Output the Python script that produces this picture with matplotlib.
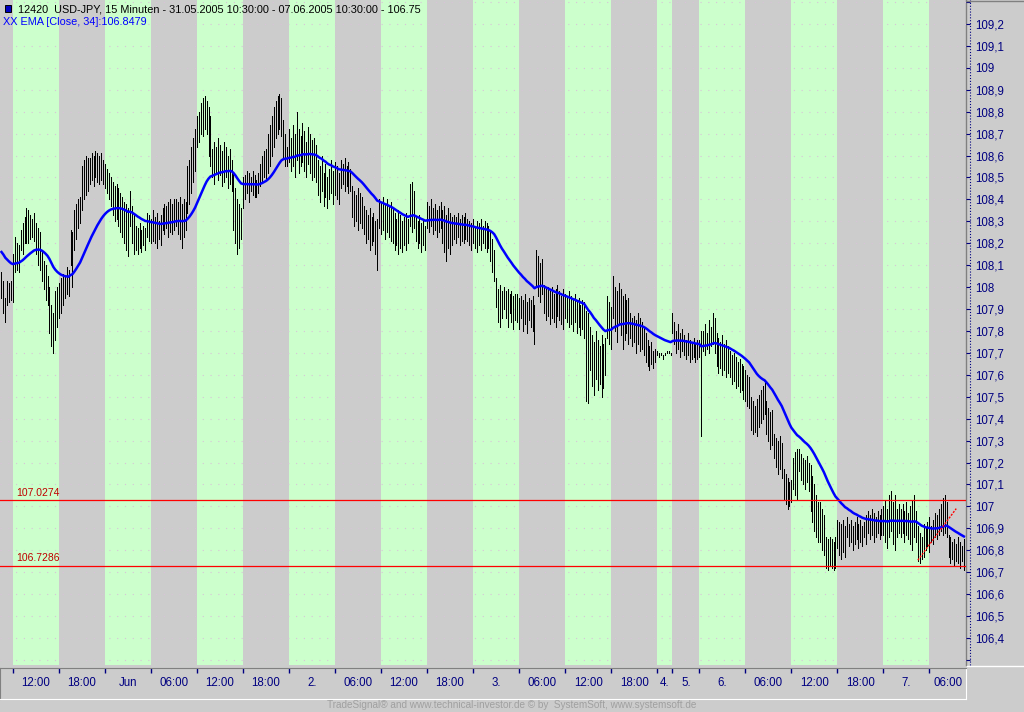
import matplotlib
matplotlib.use("Agg")
import matplotlib.pyplot as plt
from matplotlib.lines import Line2D
from matplotlib.patches import Rectangle
import numpy as np
import pandas as pd

# 15 minute bars, two sessions (gap over the weekend)
session_starts = ["2005-05-31 10:30", "2005-06-05 20:30"]
session_ends = ["2005-06-04 01:45", "2005-06-07 10:30"]

# high / low of every bar
highs = [
    108.07, 108.03, 107.95, 108.03, 108.02, 108.03, 108.15, 108.23, 108.20, 108.19,
    108.26, 108.29, 108.32, 108.36, 108.35, 108.33, 108.31, 108.34, 108.29, 108.27, 108.25,
    108.17, 108.12, 108.10, 108.05, 108.00, 107.92, 107.88, 107.98, 108.00, 108.02, 108.04,
    108.06, 108.05, 108.09, 108.08, 108.26, 108.25, 108.35, 108.38, 108.40, 108.41,
    108.55, 108.58, 108.60, 108.59, 108.59, 108.61, 108.60, 108.62, 108.61, 108.60, 108.61,
    108.58, 108.56, 108.54, 108.52, 108.50, 108.48, 108.46, 108.47, 108.45, 108.43,
    108.41, 108.39, 108.38, 108.36, 108.44, 108.37, 108.33,
    108.28, 108.27, 108.29, 108.26, 108.28, 108.27, 108.34, 108.33, 108.31,
    108.35, 108.32, 108.34, 108.30, 108.33, 108.36, 108.38, 108.37, 108.39, 108.40, 108.38, 108.40,
    108.40, 108.39, 108.41, 108.38, 108.40, 108.39, 108.55, 108.58, 108.64, 108.68, 108.72,
    108.78, 108.80, 108.84, 108.86, 108.87, 108.85, 108.82, 108.78,
    108.63, 108.66, 108.64, 108.68, 108.65, 108.62, 108.66, 108.64, 108.60, 108.63, 108.58,
    108.52, 108.45, 108.40, 108.38, 108.36, 108.50, 108.51, 108.53, 108.52, 108.50, 108.53, 108.51,
    108.49, 108.52, 108.56, 108.60, 108.62, 108.63, 108.70, 108.74, 108.78, 108.82, 108.85, 108.87, 108.88, 108.86,
    108.76, 108.70, 108.64,
    108.72, 108.68, 108.74, 108.70, 108.80, 108.72, 108.69, 108.75, 108.71, 108.66, 108.73,
    108.70, 108.67, 108.68, 108.65,
    108.58, 108.55, 108.60, 108.52, 108.56, 108.50, 108.54, 108.58, 108.53, 108.57, 108.55, 108.52,
    108.58, 108.56, 108.59, 108.55, 108.57, 108.54, 108.46, 108.44, 108.42, 108.45, 108.43, 108.41,
    108.37, 108.35, 108.33, 108.36, 108.32, 108.34, 108.30, 108.31,
    108.40, 108.39, 108.41, 108.38, 108.40, 108.37, 108.39,
    108.36, 108.34, 108.31, 108.35, 108.33, 108.30, 108.32, 108.34, 108.31, 108.47, 108.48, 108.44,
    108.32, 108.30, 108.33, 108.29, 108.31, 108.28, 108.39, 108.37, 108.40, 108.36, 108.38, 108.35, 108.37, 108.39,
    108.35, 108.37, 108.33, 108.36, 108.34, 108.32, 108.33, 108.32, 108.34, 108.31, 108.33, 108.32, 108.34, 108.31,
    108.30, 108.29, 108.31, 108.28, 108.30, 108.29, 108.31, 108.28, 108.30, 108.29, 108.28,
    108.25, 108.22, 108.17, 108.04, 107.99, 108.01, 107.98,
    108.00, 107.98, 107.99, 107.97, 107.98, 107.96, 107.97,
    107.97, 107.95, 107.96, 107.94, 107.97, 107.93, 107.95, 107.94, 107.96, 107.92,
    108.17, 108.14, 108.11, 108.13,
    108.01, 107.99, 108.00, 107.98, 108.00, 107.97, 107.99, 108.01, 107.98, 107.96, 107.99, 107.97, 107.95, 107.98,
    107.96, 107.94, 107.97, 107.93, 107.95, 107.92, 107.94, 107.93, 107.89, 107.88,
    107.82, 107.78, 107.75, 107.80, 107.76, 107.73, 107.78, 107.74, 107.77, 107.96, 107.93, 107.91,
    108.05, 108.00, 107.98, 108.02, 107.99, 107.96, 107.97, 107.94, 107.95,
    107.88, 107.86, 107.87, 107.85, 107.88, 107.86, 107.84,
    107.82, 107.79, 107.76, 107.73, 107.75, 107.71, 107.72,
    107.71, 107.70, 107.70, 107.69, 107.70, 107.71, 107.71, 107.70,
    107.88, 107.84, 107.80, 107.83, 107.79, 107.81, 107.78, 107.76, 107.79, 107.76, 107.75, 107.77, 107.74, 107.76,
    107.76, 107.80, 107.80, 107.83, 107.79, 107.85, 107.82, 107.88, 107.86,
    107.79, 107.77, 107.75, 107.78, 107.74, 107.76, 107.73,
    107.71, 107.69, 107.70, 107.68, 107.66, 107.67, 107.65, 107.64, 107.62, 107.60, 107.59,
    107.50, 107.48, 107.46, 107.49, 107.51, 107.53, 107.55, 107.57, 107.48, 107.45, 107.43, 107.44,
    107.33, 107.31, 107.30, 107.32, 107.29, 107.17, 107.15, 107.13, 107.11, 107.12,
    107.22, 107.25, 107.26, 107.26, 107.24, 107.22, 107.21, 107.23, 107.20,
    107.19, 107.14, 107.10, 107.05, 107.02, 107.02, 106.99, 106.96,
    106.86, 106.85, 106.86, 106.85, 106.84, 106.86, 106.94, 106.93, 106.92, 106.94, 106.91,
    106.95, 106.92, 106.94, 106.91, 106.93, 106.95, 106.92, 106.94, 106.91, 106.93, 106.96,
    106.98, 106.96, 106.99, 106.97, 106.95, 106.98, 106.96, 106.99,
    107.00, 107.03, 106.99, 107.05, 107.07, 107.02, 107.05, 106.99, 107.01,
    106.99, 107.01, 106.98, 107.02, 106.97, 107.00, 107.03, 107.05, 106.98,
    106.91, 106.88, 106.86,
    106.92, 106.90, 106.93, 106.95, 106.91, 106.94, 106.97, 106.96, 106.99,
    107.01, 107.04, 107.05, 107.02,
    106.87, 106.86, 106.84, 106.85, 106.83, 106.86, 106.84, 106.82, 106.85,
]
lows = [
    107.95, 107.88, 107.84, 107.92, 107.93, 107.94, 107.93, 108.07, 108.08, 108.07,
    108.17, 108.15, 108.20, 108.20, 108.20, 108.22, 108.23, 108.21, 108.15, 108.10, 108.08,
    108.03, 107.99, 107.94, 107.92, 107.79, 107.73, 107.70, 107.76, 107.82, 107.86, 107.88,
    107.92, 107.95, 107.97, 107.96, 108.10, 108.00, 108.17, 108.22, 108.27, 108.29,
    108.35, 108.40, 108.42, 108.44, 108.47, 108.49, 108.46, 108.50, 108.48, 108.47, 108.49,
    108.47, 108.45, 108.43, 108.40, 108.37, 108.33, 108.30, 108.31, 108.28, 108.25,
    108.23, 108.20, 108.17, 108.14, 108.28, 108.20, 108.15,
    108.17, 108.15, 108.18, 108.16, 108.19, 108.17, 108.23, 108.21, 108.20,
    108.21, 108.20, 108.18, 108.22, 108.19, 108.26, 108.24, 108.27, 108.23, 108.25, 108.24, 108.26,
    108.28, 108.24, 108.22, 108.18, 108.23, 108.26, 108.34, 108.38, 108.43, 108.48, 108.53,
    108.64, 108.66, 108.70, 108.69, 108.72, 108.70, 108.60, 108.55,
    108.50, 108.47, 108.52, 108.49, 108.51, 108.46, 108.48, 108.50, 108.45, 108.47, 108.44,
    108.26, 108.20, 108.15, 108.18, 108.22, 108.36, 108.40, 108.43, 108.39, 108.44, 108.42, 108.41,
    108.41, 108.43, 108.46, 108.48, 108.50, 108.49, 108.52, 108.55, 108.60, 108.64, 108.68, 108.70, 108.72, 108.69,
    108.59, 108.55, 108.55,
    108.57, 108.53, 108.55, 108.50, 108.58, 108.52, 108.55, 108.57, 108.53, 108.50, 108.56,
    108.52, 108.49, 108.50, 108.48,
    108.42, 108.39, 108.44, 108.37, 108.41, 108.36, 108.40, 108.43, 108.38, 108.42, 108.40, 108.38,
    108.45, 108.47, 108.44, 108.46, 108.43, 108.44, 108.32, 108.28, 108.30, 108.26, 108.29, 108.27,
    108.24, 108.20, 108.22, 108.17, 108.19, 108.21, 108.15, 108.08,
    108.27, 108.24, 108.26, 108.22, 108.25, 108.23, 108.21,
    108.20, 108.17, 108.19, 108.15, 108.18, 108.16, 108.19, 108.17, 108.20, 108.28, 108.25, 108.27,
    108.21, 108.18, 108.20, 108.16, 108.19, 108.17, 108.27, 108.25, 108.28, 108.24, 108.26, 108.23, 108.25, 108.27,
    108.20, 108.16, 108.12, 108.18, 108.15, 108.19, 108.22, 108.20, 108.23, 108.19, 108.21, 108.20, 108.22, 108.21,
    108.19, 108.17, 108.20, 108.18, 108.16, 108.19, 108.17, 108.20, 108.18, 108.16, 108.18,
    108.12, 108.07, 108.03, 107.91, 107.84, 107.82, 107.86,
    107.90, 107.86, 107.82, 107.88, 107.84, 107.81, 107.85,
    107.84, 107.81, 107.86, 107.80, 107.83, 107.79, 107.85, 107.82, 107.80, 107.74,
    108.00, 107.96, 107.93, 107.97,
    107.88, 107.85, 107.87, 107.83, 107.86, 107.84, 107.82, 107.87, 107.85, 107.83, 107.81, 107.86, 107.84, 107.82,
    107.83, 107.80, 107.84, 107.79, 107.82, 107.78, 107.81, 107.77, 107.48, 107.47,
    107.62, 107.55, 107.51, 107.58, 107.53, 107.56, 107.50, 107.54, 107.60, 107.77, 107.74, 107.72,
    107.86, 107.80, 107.75, 107.83, 107.78, 107.72, 107.76, 107.79, 107.74,
    107.77, 107.73, 107.75, 107.70, 107.74, 107.71, 107.72,
    107.69, 107.66, 107.64, 107.62, 107.65, 107.63, 107.66,
    107.69, 107.68, 107.69, 107.67, 107.69, 107.70, 107.70, 107.69,
    107.79, 107.74, 107.70, 107.72, 107.68, 107.71, 107.69, 107.67, 107.69, 107.66, 107.67, 107.68, 107.66, 107.67,
    107.68, 107.32, 107.71, 107.69, 107.72, 107.70, 107.73, 107.74, 107.70,
    107.64, 107.61, 107.63, 107.60, 107.62, 107.59, 107.61,
    107.59, 107.56, 107.57, 107.54, 107.55, 107.52, 107.53, 107.49, 107.48, 107.46, 107.45,
    107.35, 107.33, 107.34, 107.32, 107.36, 107.38, 107.40, 107.42, 107.33, 107.30, 107.26, 107.28,
    107.22, 107.18, 107.15, 107.17, 107.13, 107.03, 107.01, 106.99, 107.00, 107.02,
    107.08, 107.05, 107.03, 107.16, 107.12, 107.10, 107.08, 107.11, 107.07,
    106.98, 106.93, 106.89, 106.86, 106.84, 106.84, 106.80, 106.78,
    106.72, 106.71, 106.73, 106.72, 106.71, 106.72, 106.81, 106.78, 106.76, 106.79, 106.77,
    106.86, 106.82, 106.84, 106.80, 106.83, 106.85, 106.81, 106.84, 106.82, 106.86, 106.83,
    106.88, 106.85, 106.87, 106.84, 106.86, 106.88, 106.85, 106.87,
    106.87, 106.84, 106.81, 106.86, 106.89, 106.83, 106.80, 106.86, 106.88,
    106.86, 106.88, 106.84, 106.87, 106.85, 106.83, 106.80, 106.86, 106.84,
    106.75, 106.74, 106.76,
    106.77, 106.80, 106.82, 106.79, 106.84, 106.83, 106.86, 106.85, 106.87,
    106.89, 106.87, 106.88, 106.86,
    106.77, 106.74, 106.76, 106.73, 106.75, 106.74, 106.72, 106.75, 106.71,
]

ema_period = 34
ema_start = 108.16          # EMA value at the first visible bar
level_prices = [107.0274, 106.7286]
level_labels = ["107.0274", "106.7286"]
trend_bars = [478, 498]
trend_prices = [106.755, 106.99]

header = "12420  USD-JPY, 15 Minuten - 31.05.2005 10:30:00 - 07.06.2005 10:30:00 - 106.75"
ema_header = "XX EMA [Close, 34]:106.8479"
footer = "TradeSignal\u00ae and www.technical-investor.de \u00a9 by  SystemSoft, www.systemsoft.de"

# time index
times = pd.DatetimeIndex([])
for s, e in zip(session_starts, session_ends):
    times = times.append(pd.date_range(s, e, freq="15min"))
n = len(times)
highs = np.array(highs[:n])
lows = np.array(lows[:n])
idx = np.arange(len(highs))

# EMA on bar close (mid of the bar used as close)
closes = (highs + lows) / 2
alpha = 2.0 / (ema_period + 1)
ema = [ema_start]
for c in closes[1:]:
    ema.append(ema[-1] + alpha * (c - ema[-1]))

NAVY = "#000080"
GRAY = "#cccccc"
GREEN = "#ccffcc"
W, H = 1024, 712
plt.rcParams["font.family"] = ["Liberation Sans", "DejaVu Sans"]


def px(x0, y0, x1, y1):
    return [x0 / W, 1 - y1 / H, (x1 - x0) / W, (y1 - y0) / H]


x_left = -0.78
x_right = 503.1

fig = plt.figure(figsize=(W / 100, H / 100), dpi=100, facecolor=GRAY)
ax = fig.add_axes(px(0, 0, 966, 665))
ax.set_facecolor(GRAY)

# green session bands: 00-06 and 12-18
is_green = np.array([(t.hour < 6) or (12 <= t.hour < 18) for t in times])
start = None
for i in range(n + 1):
    g = is_green[i] if i < n else False
    if g and start is None:
        start = i
    if not g and start is not None:
        ax.axvspan(start, i, color=GREEN, lw=0, zorder=1)
        start = None

# bars and EMA
ax.vlines(idx, lows, highs, colors="black", lw=0.5, antialiased=False, zorder=3)
ax.plot(idx, ema, color="#0000ff", lw=1.8, zorder=4)

# horizontal levels + labels
for p, lab in zip(level_prices, level_labels):
    ax.axhline(p, color="#ff0000", lw=0.9, zorder=5)
    ax.text(7.5, p + 0.012, lab, color="#c00000", fontsize=7.5, va="bottom", zorder=6)
ax.plot(trend_bars, trend_prices, color="#ff0000", lw=1.0, ls=(0, (1.5, 1)), zorder=5)

ax.set_xlim(x_left, x_right)
ax.set_ylim(106.277, 109.309)

# y axis on the right, german decimals
yt = np.round(np.arange(106.3, 109.31, 0.1), 1)
ylabels = []
for v in yt:
    s = ("%.1f" % v).replace(".", ",")
    if s.endswith(",0"):
        s = s[:-2]
    if v < 106.35 or v > 109.25:
        s = ""
    ylabels.append(s)
ax.yaxis.tick_right()
ax.set_yticks(yt)
ax.set_yticklabels(ylabels)
ax.tick_params(axis="y", direction="out", length=3.2, width=0.8, color=NAVY,
               labelcolor=NAVY, labelsize=8.3, pad=3.5)
ax.set_xticks([])
ax.grid(axis="y", color="#d8c4d8", lw=0.8, ls=(0, (1, 6)))
ax.set_axisbelow(False)
for side in ["left", "top", "bottom"]:
    ax.spines[side].set_visible(False)
ax.spines["right"].set_color("#808080")
ax.spines["right"].set_linewidth(1)

# time axis underneath
ax_t = fig.add_axes(px(0, 668, 966, 699))
ax_t.set_facecolor(GRAY)
ax_t.set_xlim(x_left, x_right)
ax_t.set_ylim(0, 1)
tick_idx = []
tick_lab = []
for i, t in enumerate(times):
    new_day = i > 0 and t.day != times[i - 1].day
    if new_day:
        tick_idx.append(i)
        tick_lab.append("Jun" if t.day == 1 else "%d." % t.day)
    elif t.minute == 0 and t.hour % 6 == 0 and i > 0:
        tick_idx.append(i)
        tick_lab.append(t.strftime("%H:%M"))
ax_t.set_xticks(tick_idx)
ax_t.set_yticks([])
ax_t.xaxis.tick_top()
ax_t.tick_params(axis="x", direction="in", length=3.6, width=1, color=NAVY, labeltop=False)
edges = tick_idx + [x_right]
for k, lab in enumerate(tick_lab):
    ax_t.text((edges[k] + edges[k + 1]) / 2, 0.5, lab, ha="center", va="center",
              color=NAVY, fontsize=8.3)
ax_t.spines["top"].set_color("#808080")
ax_t.spines["left"].set_color("#808080")
ax_t.spines["bottom"].set_color("white")
ax_t.spines["right"].set_color("white")

# frame details of the price scale
fig.add_artist(Line2D([969.5 / W, 969.5 / W], [1 - 665 / H, 1], transform=fig.transFigure,
                      color=NAVY, lw=0.8, ls=(0, (1, 1.6))))
fig.add_artist(Line2D([967 / W, 1], [1 - 665.5 / H, 1 - 665.5 / H], transform=fig.transFigure,
                      color="white", lw=1))
fig.add_artist(Line2D([967 / W, 1], [1 - 1 / H, 1 - 1 / H], transform=fig.transFigure,
                      color="#808080", lw=1))

# header lines
fig.add_artist(Rectangle((5 / W, 1 - 12 / H), 6 / W, 7 / H, transform=fig.transFigure,
                         facecolor="#0000c0", edgecolor="black", lw=0.7, zorder=10))
fig.text(18 / W, 1 - 9 / H, header, color="black", fontsize=7.8, va="center", zorder=10)
fig.text(3 / W, 1 - 22 / H, ema_header, color="#0000ff", fontsize=7.8, va="center", zorder=10)

fig.text(0.5, 6.5 / H, footer, color="#a0a0a0", fontsize=7.2, ha="center", va="center")

fig.savefig("out.png", dpi=100, facecolor=fig.get_facecolor())
